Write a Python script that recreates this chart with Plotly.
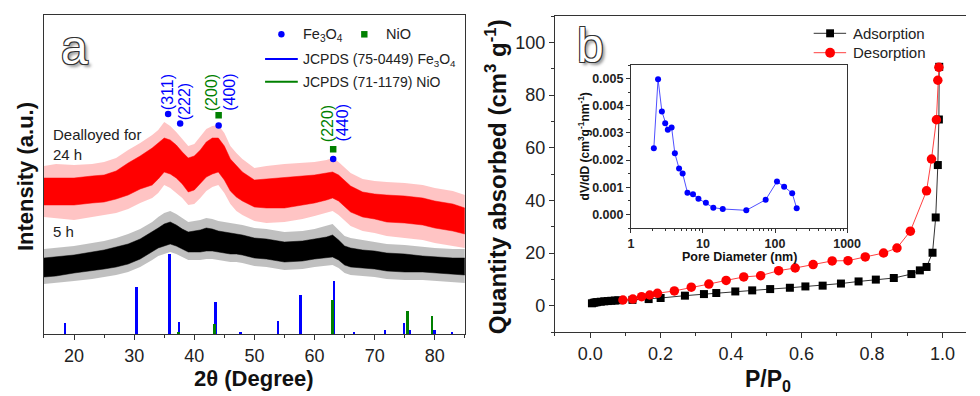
import plotly.graph_objects as go

W, H = 980, 396
FONT = "Arial, Liberation Sans, sans-serif"

# ---------------- Panel a : XRD ----------------
two_theta = [15, 17, 20, 23, 25, 27, 29, 31, 33, 34, 35, 36, 37, 38, 39, 40, 41, 42, 43, 44, 45,
             46, 47, 48, 50, 52, 55, 58, 60, 62, 63, 64, 65, 66, 68, 70, 72, 75, 78, 80, 83, 85]
# 24 h pattern (red): dense core band and spike extent (arbitrary intensity units)
red_core_lo = [129, 129, 129, 131, 132, 135, 139, 145, 149, 155, 162, 160, 156, 150, 142, 144, 150, 157, 160, 162, 154,
               143, 137, 133, 127, 126, 126, 129, 131, 134, 136, 133, 127, 122, 117, 115, 112, 111, 109, 106, 103, 100]
red_core_hi = [156, 156, 156, 158, 159, 163, 171, 178, 186, 191, 196, 194, 189, 182, 176, 178, 184, 192, 196, 196, 188,
               175, 169, 162, 154, 155, 156, 158, 159, 161, 162, 159, 153, 148, 142, 140, 139, 138, 136, 133, 130, 126]
red_spike_lo = [117, 116, 114, 117, 119, 121, 125, 131, 136, 141, 149, 146, 141, 136, 129, 130, 136, 143, 147, 149, 141,
                130, 123, 119, 113, 111, 112, 115, 118, 121, 123, 119, 113, 108, 103, 101, 98, 96, 94, 91, 88, 86]
red_spike_hi = [168, 170, 169, 170, 172, 176, 184, 191, 199, 204, 212, 208, 202, 195, 188, 190, 197, 205, 208, 209, 201,
                188, 181, 175, 166, 168, 170, 171, 172, 174, 176, 172, 166, 161, 155, 153, 152, 151, 149, 146, 143, 139]
# 5 h pattern (black)
blk_core_lo = [57, 58, 61, 63, 65, 67, 70, 75, 82, 86, 88, 90, 88, 85, 82, 82, 82, 83, 83, 82, 81,
               80, 80, 79, 76, 75, 72, 73, 75, 76, 77, 74, 69, 67, 66, 65, 63, 62, 62, 61, 60, 59]
blk_core_hi = [76, 77, 79, 82, 84, 87, 90, 95, 102, 106, 110, 112, 109, 105, 102, 103, 104, 106, 105, 103, 102,
               101, 100, 99, 96, 95, 92, 93, 95, 97, 99, 94, 88, 86, 84, 83, 81, 80, 78, 77, 76, 76]
blk_spike_lo = [50, 51, 53, 55, 57, 59, 62, 67, 74, 78, 80, 82, 80, 77, 74, 74, 74, 75, 75, 74, 73,
                72, 72, 71, 68, 67, 64, 65, 67, 68, 69, 66, 61, 59, 58, 57, 55, 54, 54, 53, 52, 51]
blk_spike_hi = [85, 86, 88, 91, 93, 96, 100, 105, 112, 117, 121, 123, 120, 116, 112, 113, 114, 116, 115, 113, 112,
                111, 110, 109, 106, 105, 102, 103, 105, 108, 110, 104, 98, 96, 94, 92, 90, 89, 87, 86, 85, 85]

# reference sticks
fe_ref_pos = [18.5, 30.4, 35.9, 37.5, 43.6, 47.7, 54.0, 57.7, 63.3, 66.6, 71.8, 74.9, 75.9, 80.0, 82.9]
fe_ref_int = [11, 47, 80, 12, 32, 2, 13, 39, 53, 2, 4, 11, 4, 4, 1.5]
nio_ref_pos = [37.4, 43.4, 63.0, 75.5, 79.6]
nio_ref_int = [2, 10, 34, 23, 18]

# peak markers
fe_mark_x = [35.65, 37.65, 44.05, 63.1]
fe_mark_y = [220, 210.5, 208.5, 175]
nio_mark_x = [44.05, 63.1]
nio_mark_y = [218.7, 184.7]
peak_labels = ["(311)", "(222)", "(200)", "(400)", "(220)", "(440)"]
peak_label_x = [35.65, 38.4, 42.9, 45.9, 62.05, 64.8]
peak_label_y = [242, 232.5, 241.5, 242, 210.7, 211]
peak_label_col = ["#0000ff", "#0000ff", "#008000", "#0000ff", "#008000", "#0000ff"]

# ---------------- Panel b : N2 isotherm ----------------
ads_p = [0.005, 0.01, 0.015, 0.02, 0.03, 0.04, 0.05, 0.06, 0.07, 0.08, 0.12, 0.166, 0.2, 0.269, 0.323, 0.358,
         0.412, 0.46, 0.511, 0.567, 0.611, 0.66, 0.712, 0.762, 0.811, 0.862, 0.912, 0.936, 0.955, 0.972,
         0.981, 0.987, 0.990, 0.991]
ads_v = [0.9, 1.1, 1.25, 1.35, 1.5, 1.65, 1.75, 1.85, 1.95, 2.05, 2.2, 2.5, 2.9, 3.8, 4.4, 4.8,
         5.4, 5.8, 6.3, 6.8, 7.3, 7.6, 8.4, 9.2, 9.9, 10.5, 12.0, 13.4, 14.7, 20.1,
         33.5, 53.4, 70.7, 90.7]
des_p = [0.093, 0.121, 0.146, 0.169, 0.191, 0.239, 0.287, 0.337, 0.386, 0.436, 0.484, 0.535, 0.582, 0.633,
         0.687, 0.732, 0.781, 0.833, 0.871, 0.909, 0.955, 0.969, 0.983, 0.987, 0.990]
des_v = [2.15, 2.5, 3.4, 4.05, 4.7, 5.6, 7.0, 8.2, 9.6, 10.9, 11.4, 13.3, 14.3, 15.6,
         17.0, 17.1, 18.5, 20.0, 21.9, 28.3, 43.6, 55.7, 70.6, 85.6, 90.5]

# inset: pore size distribution
pore_d = [2.08, 2.38, 2.69, 2.99, 3.25, 3.67, 4.07, 4.66, 5.22, 6.09, 7.27, 8.65, 10.97, 13.9, 18.8,
          39.9, 74.1, 106.4, 133.6, 173, 199.7]
pore_dvdd = [0.00244, 0.00498, 0.00379, 0.00336, 0.00312, 0.0032, 0.00225, 0.00169, 0.00151, 0.0008,
             0.00074, 0.00058, 0.00043, 0.00025, 0.0002, 0.00015, 0.00054, 0.00121, 0.00102, 0.00078, 0.00023]

AX = "#333333"

fig = go.Figure()


def band(x, lo, hi, color, xa, ya, lw=0):
    fig.add_trace(go.Scatter(x=x, y=lo, mode="lines", line=dict(width=lw, color=color),
                             hoverinfo="skip", showlegend=False, xaxis=xa, yaxis=ya))
    fig.add_trace(go.Scatter(x=x, y=hi, mode="lines", line=dict(width=lw, color=color),
                             fill="tonexty", fillcolor=color, hoverinfo="skip",
                             showlegend=False, xaxis=xa, yaxis=ya))


band(two_theta, red_spike_lo, red_spike_hi, "rgba(255,70,70,0.32)", "x", "y")
band(two_theta, red_core_lo, red_core_hi, "rgba(255,0,0,1)", "x", "y", 0.5)
band(two_theta, blk_spike_lo, blk_spike_hi, "rgba(60,60,60,0.32)", "x", "y")
band(two_theta, blk_core_lo, blk_core_hi, "rgba(0,0,0,1)", "x", "y", 0.5)

fig.add_trace(go.Bar(x=fe_ref_pos, y=fe_ref_int, width=0.32, marker=dict(color="#0000ff", line=dict(width=0)),
                     name="JCPDS (75-0449) Fe3O4", showlegend=False, xaxis="x", yaxis="y"))
fig.add_trace(go.Bar(x=nio_ref_pos, y=nio_ref_int, width=0.32, marker=dict(color="#008000", line=dict(width=0)),
                     name="JCPDS (71-1179) NiO", showlegend=False, xaxis="x", yaxis="y"))
fig.add_trace(go.Scatter(x=fe_mark_x, y=fe_mark_y, mode="markers",
                         marker=dict(symbol="circle", size=6.5, color="#0000ff"),
                         showlegend=False, xaxis="x", yaxis="y"))
fig.add_trace(go.Scatter(x=nio_mark_x, y=nio_mark_y, mode="markers",
                         marker=dict(symbol="square", size=6.5, color="#008000"),
                         showlegend=False, xaxis="x", yaxis="y"))

fig.add_trace(go.Scatter(x=ads_p, y=ads_v, mode="lines+markers", name="Adsorption",
                         line=dict(color="#333333", width=1),
                         marker=dict(symbol="square", size=8, color="#000000"),
                         showlegend=False, xaxis="x2", yaxis="y2"))
fig.add_trace(go.Scatter(x=des_p, y=des_v, mode="lines+markers", name="Desorption",
                         line=dict(color="#ff4040", width=1),
                         marker=dict(symbol="circle", size=9.5, color="#ff0000"),
                         showlegend=False, xaxis="x2", yaxis="y2"))
fig.add_trace(go.Scatter(x=pore_d, y=pore_dvdd, mode="lines+markers",
                         line=dict(color="#5050ff", width=1),
                         marker=dict(symbol="circle", size=6, color="#0000ff"),
                         showlegend=False, xaxis="x3", yaxis="y3"))


def px(x):
    return x / W


def py(y):
    return 1 - y / H


common = dict(showgrid=False, zeroline=False, showline=True, linecolor=AX, linewidth=1,
              tickcolor=AX, tickwidth=1)

fig.update_layout(
    width=W, height=H, margin=dict(l=0, r=0, t=0, b=0),
    paper_bgcolor="white", plot_bgcolor="white",
    font=dict(family=FONT, color="#222222"),
    showlegend=False, bargap=0, barmode="overlay",
    xaxis=dict(domain=[px(41.7), px(470)], range=[15, 85], anchor="y", mirror=True,
               ticks="outside", ticklen=5, dtick=10, tick0=0,
               tickfont=dict(size=18, color="#222"),
               minor=dict(dtick=5, tick0=0, ticks="outside", ticklen=3, tickcolor=AX), **common),
    yaxis=dict(domain=[py(334), py(15)], range=[0, 319], anchor="x", mirror=True,
               ticks="", showticklabels=False, **common),
    xaxis2=dict(domain=[px(561.7), 1.0], range=[-0.1, 1.067], anchor="y2", mirror=True,
                ticks="outside", ticklen=5, dtick=0.2, tick0=0, tickformat=".1f",
                tickfont=dict(size=18, color="#222"),
                minor=dict(dtick=0.1, tick0=0, ticks="outside", ticklen=3, tickcolor=AX), **common),
    yaxis2=dict(domain=[py(332), py(16)], range=[-10, 110], anchor="x2",
                ticks="outside", ticklen=5, dtick=20, tick0=0,
                tickfont=dict(size=18, color="#222"),
                minor=dict(dtick=10, tick0=0, ticks="outside", ticklen=3, tickcolor=AX), **common),
    xaxis3=dict(domain=[px(639), px(859)], type="log", range=[0, 3], anchor="y3", mirror=True,
                ticks="outside", ticklen=4, dtick=1,
                tickfont=dict(size=12.5, color="#222", weight="bold"),
                minor=dict(ticks="outside", ticklen=2, tickcolor=AX), **common),
    yaxis3=dict(domain=[py(228), py(65)], range=[-0.0005, 0.0055], anchor="x3", mirror=True,
                ticks="outside", ticklen=4, dtick=0.001, tick0=0, tickformat=".3f",
                tickfont=dict(size=12.5, color="#222", weight="bold"),
                minor=dict(dtick=0.0005, tick0=0, ticks="outside", ticklen=2, tickcolor=AX), **common),
)

ann = []


def txt(x, y, text, size=15, color="#222222", xanchor="left", angle=0, bold=False, ref="paper", shadow=None):
    f = dict(size=size, color=color, family=FONT)
    if bold:
        f["weight"] = "bold"
    if shadow:
        f["shadow"] = shadow
    if ref == "paper":
        xx, yy, xr, yr = px(x), py(y), "paper", "paper"
    else:
        xx, yy, xr, yr = x, y, "x", "y"
    ann.append(dict(x=xx, y=yy, xref=xr, yref=yr, text=text, showarrow=False, font=f,
                    xanchor=xanchor, yanchor="middle", textangle=angle))


# peak labels (data coordinates of panel a)
for t, lx, ly, c in zip(peak_labels, peak_label_x, peak_label_y, peak_label_col):
    txt(lx, ly, t, size=16, color=c, xanchor="center", angle=-90, ref="data")

OUT = "1px 1px 0 #333, -1px -1px 0 #333, 1px -1px 0 #333, -1px 1px 0 #333, 3px 3px 3px #999"
txt(73, 47, "a", size=48, color="white", xanchor="center", shadow=OUT)
txt(598, 46, "b", size=48, color="white", xanchor="center", shadow=OUT)

txt(48.5, 135, "Dealloyed for", size=15)
txt(48.5, 154.5, "24 h", size=15)
txt(48.5, 231, "5 h", size=15)

# panel a legend
txt(303, 35, "Fe<sub>3</sub>O<sub>4</sub>", size=14.5)
txt(388, 34.3, "NiO", size=14.5)
txt(303, 60, "JCPDS (75-0449) Fe<sub>3</sub>O<sub>4</sub>", size=14)
txt(303, 81.7, "JCPDS (71-1179) NiO", size=14)

# panel b legend
txt(863, 33.3, "Adsorption", size=15)
txt(863, 52.7, "Desorption", size=15)

# axis titles
txt(23, 176.5, "Intensity (a.u.)", size=22, bold=True, xanchor="center", angle=-90, color="#111")
txt(255, 378, "2\u03b8 (Degree)", size=22, bold=True, xanchor="center", color="#111")
txt(502, 177, "Quantity absorbed (cm<sup>3</sup> g<sup>-1</sup>)", size=24, bold=True,
    xanchor="center", angle=-90, color="#111")
txt(778, 380, "P/P<sub>0</sub>", size=23, bold=True, xanchor="center", color="#111")
txt(750, 256.7, "Pore Diameter (nm)", size=12.5, bold=True, xanchor="center", color="#111")
txt(591.7, 146, "dV/dD (cm<sup>3</sup>g<sup>-1</sup>nm<sup>-1</sup>)", size=12, bold=True,
    xanchor="center", angle=-90, color="#111")

fig.update_layout(annotations=ann)

shapes = []


def pline(x0, x1, y, color, w):
    shapes.append(dict(type="line", xref="paper", yref="paper", x0=px(x0), x1=px(x1), y0=py(y), y1=py(y),
                       line=dict(color=color, width=w)))


def pmark(kind, cx, cy, s, color):
    shapes.append(dict(type=kind, xref="paper", yref="paper", x0=px(cx - s / 2), x1=px(cx + s / 2),
                       y0=py(cy + s / 2), y1=py(cy - s / 2), fillcolor=color, line=dict(width=0)))


pmark("circle", 283.3, 34.3, 6.5, "#0000ff")
pmark("rect", 367.7, 34.3, 6.5, "#008000")
pline(266.7, 300, 59, "#0000ff", 2)
pline(266.7, 300, 81.7, "#008000", 2)
pline(825, 858, 33.3, "#333333", 1)
pmark("rect", 841.7, 33.3, 8, "#000000")
pline(825, 858, 52.7, "#ff4040", 1)
pmark("circle", 841.7, 52.7, 10, "#ff0000")

fig.update_layout(shapes=shapes)

fig.write_html(
    "out.html",
    config={"displayModeBar": False},
    post_script="document.body.style.margin='0';document.body.style.padding='0';"
                "document.body.style.overflow='hidden';"
                "document.documentElement.style.overflow='hidden';",
)
